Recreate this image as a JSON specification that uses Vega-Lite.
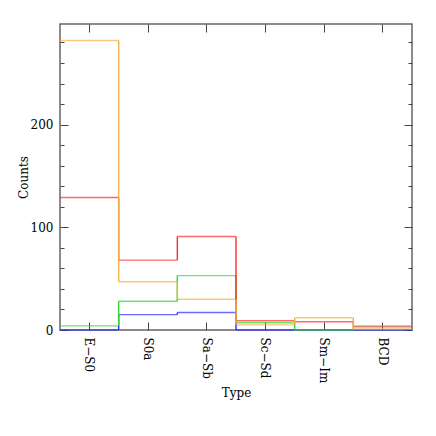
{
  "$schema": "https://vega.github.io/schema/vega-lite/v6.json",
  "width": 352,
  "height": 306,
  "autosize": "none",
  "padding": {"left": 60, "top": 24, "right": 24, "bottom": 106},
  "config": {
    "view": {"stroke": "#666666", "strokeWidth": 1.5},
    "tick": {"bandSize": 1},
    "axis": {
      "domain": false,
      "grid": false,
      "labelFont": "DejaVu Serif",
      "titleFont": "DejaVu Serif",
      "labelFontSize": 12,
      "titleFontSize": 12,
      "titleFontWeight": "normal",
      "labelColor": "#000000",
      "titleColor": "#000000",
      "tickColor": "#444444",
      "tickWidth": 1
    }
  },
  "data": {
    "values": [
      {"type": "E−S0", "series": "blue", "count": 0},
      {"type": "S0a", "series": "blue", "count": 15},
      {"type": "Sa−Sb", "series": "blue", "count": 17},
      {"type": "Sc−Sd", "series": "blue", "count": 0},
      {"type": "Sm−Im", "series": "blue", "count": 0},
      {"type": "BCD", "series": "blue", "count": 0},
      {"type": "E−S0", "series": "green", "count": 4},
      {"type": "S0a", "series": "green", "count": 28},
      {"type": "Sa−Sb", "series": "green", "count": 53},
      {"type": "Sc−Sd", "series": "green", "count": 7},
      {"type": "Sm−Im", "series": "green", "count": 0},
      {"type": "BCD", "series": "green", "count": 4},
      {"type": "E−S0", "series": "red", "count": 129},
      {"type": "S0a", "series": "red", "count": 68},
      {"type": "Sa−Sb", "series": "red", "count": 91},
      {"type": "Sc−Sd", "series": "red", "count": 9},
      {"type": "Sm−Im", "series": "red", "count": 8},
      {"type": "BCD", "series": "red", "count": 3},
      {"type": "E−S0", "series": "orange", "count": 282},
      {"type": "S0a", "series": "orange", "count": 47},
      {"type": "Sa−Sb", "series": "orange", "count": 30},
      {"type": "Sc−Sd", "series": "orange", "count": 5},
      {"type": "Sm−Im", "series": "orange", "count": 12},
      {"type": "BCD", "series": "orange", "count": 1}
    ]
  },
  "layer": [
    {
      "mark": {"type": "tick", "thickness": 1.4},
      "encoding": {
        "x": {
          "field": "type", "type": "nominal", "sort": null,
          "scale": {"type": "band", "domain": ["E−S0", "S0a", "Sa−Sb", "Sc−Sd", "Sm−Im", "BCD"], "paddingInner": 0, "paddingOuter": 0},
          "axis": {"orient": "bottom", "labelAngle": 90, "tickSize": -8, "labelPadding": 15, "title": "Type", "titlePadding": 5}
        },
        "y": {
          "field": "count", "type": "quantitative",
          "scale": {"domain": [0, 298], "nice": false, "zero": true},
          "axis": {"orient": "left", "values": [0, 100, 200], "tickSize": -8, "labelPadding": 15, "title": "Counts", "titlePadding": 0}
        },
        "color": {
          "field": "series", "type": "nominal",
          "scale": {"domain": ["blue", "green", "red", "orange"], "range": ["#2a2aff", "#2ed82e", "#ff2a2a", "#f2b04a"]},
          "legend": null
        }
      }
    },
    {
      "transform": [
        {"window": [{"op": "lag", "field": "count", "as": "prev"}], "groupby": ["series"]},
        {"filter": "datum.prev != null"}
      ],
      "mark": {"type": "rule", "strokeWidth": 1.4},
      "encoding": {
        "x": {
          "field": "type", "type": "nominal", "bandPosition": 0,
          "axis": {"orient": "top", "labels": false, "title": null, "tickSize": -8}
        },
        "y": {
          "field": "prev", "type": "quantitative",
          "axis": {"orient": "right", "values": [0, 100, 200], "labels": false, "title": null, "tickSize": -8}
        },
        "y2": {"field": "count"},
        "color": {"field": "series", "type": "nominal", "legend": null}
      }
    },
    {
      "mark": {"type": "tick", "opacity": 0},
      "encoding": {
        "x": {"field": "type", "type": "nominal", "axis": null},
        "y": {
          "field": "count", "type": "quantitative",
          "axis": {"orient": "left", "values": [20, 40, 60, 80, 120, 140, 160, 180, 220, 240, 260, 280], "labels": false, "title": null, "tickSize": -4}
        }
      }
    },
    {
      "mark": {"type": "tick", "opacity": 0},
      "encoding": {
        "x": {"field": "type", "type": "nominal", "axis": null},
        "y": {
          "field": "count", "type": "quantitative",
          "axis": {"orient": "right", "values": [20, 40, 60, 80, 120, 140, 160, 180, 220, 240, 260, 280], "labels": false, "title": null, "tickSize": -4}
        }
      }
    }
  ],
  "resolve": {"axis": {"x": "independent", "y": "independent"}}
}
